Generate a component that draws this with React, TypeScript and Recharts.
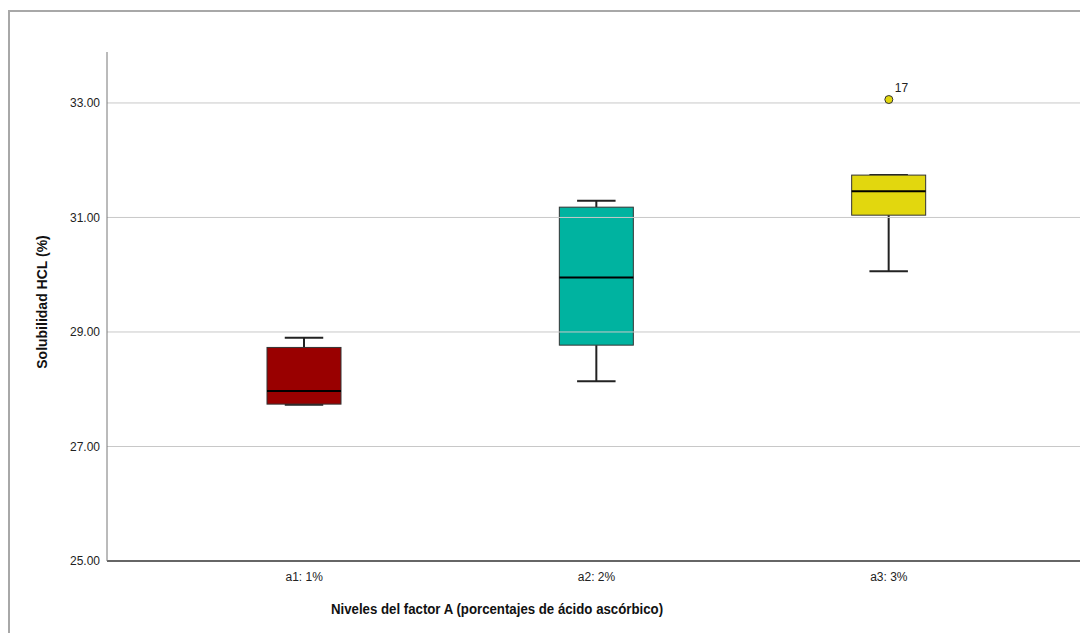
import {
  ComposedChart,
  Bar,
  Scatter,
  XAxis,
  YAxis,
  ReferenceLine,
} from "recharts";

const categories = ["a1: 1%", "a2: 2%", "a3: 3%"];
const whiskerLow = [27.73, 28.14, 30.06];
const q1 = [27.74, 28.77, 31.04];
const median = [27.97, 29.95, 31.46];
const q3 = [28.73, 31.18, 31.74];
const whiskerHigh = [28.9, 31.29, 31.74];
const outlierValues = [null, null, 33.06];
const outlierIds = [null, null, 17];
const fills = ["#990000", "#00b3a0", "#e2d70e"];
const yTicks = [25, 27, 29, 31, 33];

const data = categories.map((cat, i) => ({
  cat,
  whisker: [whiskerLow[i], whiskerHigh[i]],
  low: whiskerLow[i],
  q1: q1[i],
  median: median[i],
  q3: q3[i],
  high: whiskerHigh[i],
  outlier: outlierValues[i],
  outlierId: outlierIds[i],
  fill: fills[i],
}));

const font = "'Liberation Sans', Arial, sans-serif";

function BoxShape(props: any) {
  const { x, y, width, height, payload } = props;
  const top = Math.min(y, y + height);
  const h = Math.abs(height);
  const span = payload.high - payload.low;
  const toY = (v: number) => (span > 0 ? top + ((payload.high - v) / span) * h : top);
  const cx = x + width / 2;
  const cap = width * 0.26;
  return (
    <g>
      <line x1={cx} x2={cx} y1={toY(payload.high)} y2={toY(payload.q3)} stroke="#222" strokeWidth={2} />
      <line x1={cx} x2={cx} y1={toY(payload.q1)} y2={toY(payload.low)} stroke="#222" strokeWidth={2} />
      <line x1={cx - cap} x2={cx + cap} y1={toY(payload.high)} y2={toY(payload.high)} stroke="#222" strokeWidth={2} />
      <line x1={cx - cap} x2={cx + cap} y1={toY(payload.low)} y2={toY(payload.low)} stroke="#222" strokeWidth={2} />
      <rect
        x={x}
        y={toY(payload.q3)}
        width={width}
        height={toY(payload.q1) - toY(payload.q3)}
        fill={payload.fill}
        stroke="#333"
        strokeWidth={1}
      />
      <line x1={x} x2={x + width} y1={toY(payload.median)} y2={toY(payload.median)} stroke="#000" strokeWidth={2} />
    </g>
  );
}

function OutlierShape(props: any) {
  const { cx, cy, payload } = props;
  if (payload == null || payload.outlier == null || !isFinite(cy)) return <g />;
  return (
    <g>
      <circle cx={cx} cy={cy} r={4} fill={payload.fill} stroke="#333" strokeWidth={1} />
      <text x={cx + 6} y={cy - 8} fontSize={12} fontFamily={font} fill="#222">
        {payload.outlierId}
      </text>
    </g>
  );
}

const titleStyle = {
  position: "absolute" as const,
  whiteSpace: "nowrap" as const,
  fontFamily: font,
  fontWeight: "bold" as const,
  fontSize: 14,
  color: "#111",
};

export default function App() {
  return (
    <div style={{ position: "relative", width: 1080, height: 625 }}>
      <div
        style={{
          position: "absolute",
          left: 0,
          top: 2,
          width: 1078,
          height: 630,
          borderTop: "2px solid #a8a8a8",
          borderLeft: "2px solid #a8a8a8",
        }}
      />
      <ComposedChart
        width={1080}
        height={625}
        data={data}
        margin={{ top: 44, right: 2, bottom: 42, left: 0 }}
        style={{ position: "absolute", left: 0, top: 0 }}
      >
        {yTicks.slice(1).map((t) => (
          <ReferenceLine key={t} y={t} stroke="#c8c8c8" strokeWidth={1} />
        ))}
        <XAxis
          dataKey="cat"
          type="category"
          padding={{ left: 51, right: 51 }}
          height={30}
          tickLine={false}
          tickSize={6}
          tickMargin={5}
          axisLine={{ stroke: "#666", strokeWidth: 2 }}
          tick={{ fontSize: 12, fontFamily: font, fill: "#222" }}
        />
        <YAxis
          type="number"
          domain={[25, 33.89]}
          ticks={yTicks}
          width={99}
          tickLine={false}
          tickSize={6}
          tickMargin={1}
          axisLine={{ stroke: "#777" }}
          tickFormatter={(v: number) => v.toFixed(2)}
          tick={{ fontSize: 12, fontFamily: font, fill: "#222" }}
          allowDataOverflow
        />
        <Bar dataKey="whisker" barSize={74} shape={BoxShape} isAnimationActive={false} />
        <Scatter dataKey="outlier" shape={OutlierShape} isAnimationActive={false} />
      </ComposedChart>
      <div
        style={{
          ...titleStyle,
          left: 489,
          top: 601,
          transform: "translate(-50%, -50%) scaleX(0.945)",
        }}
      >
        Niveles del factor A (porcentajes de ácido ascórbico)
      </div>
      <div
        style={{
          ...titleStyle,
          left: 34,
          top: 294,
          transform: "translate(-50%, -50%) rotate(-90deg)",
        }}
      >
        Solubilidad HCL (%)
      </div>
    </div>
  );
}
